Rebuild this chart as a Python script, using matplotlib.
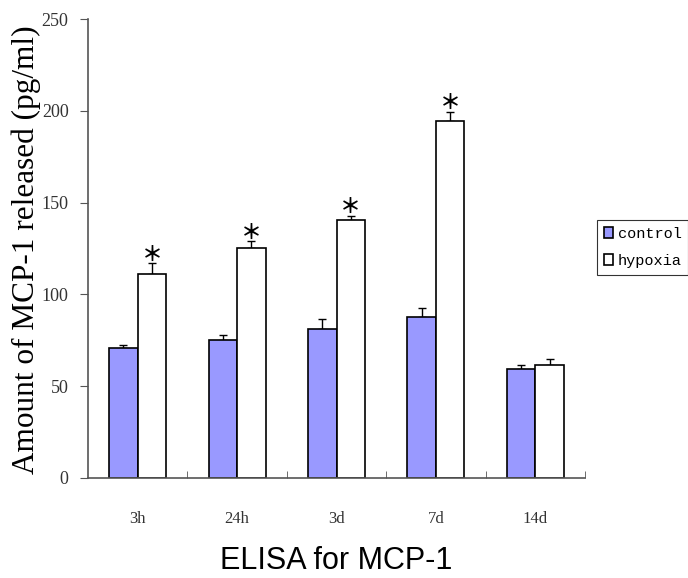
import matplotlib
matplotlib.use("Agg")
import matplotlib.pyplot as plt
import numpy as np

categories = ["3h", "24h", "3d", "7d", "14d"]
control = [70.8, 75.0, 81.0, 87.9, 59.2]
control_err = [1.5, 3.0, 5.4, 4.5, 2.3]
hypoxia = [111.0, 125.3, 140.3, 194.4, 61.4]
hypoxia_err = [6.0, 3.7, 2.6, 5.1, 3.2]
significant = [True, True, True, True, False]
yticks = [0, 50, 100, 150, 200, 250]

fig = plt.figure(figsize=(6.88, 5.78), dpi=100)
ax = fig.add_axes([88/688, 1-478/578, (585-88)/688, (478-19)/578])

x = np.arange(len(categories))
w = 0.287
ax.bar(x - w/2, control, w, color="#9999ff", edgecolor="black", linewidth=1.2,
       label="control", zorder=2)
ax.bar(x + w/2, hypoxia, w, color="white", edgecolor="black", linewidth=1.2,
       label="hypoxia", zorder=2)
ax.errorbar(x - w/2, control, yerr=[np.zeros(5), control_err], fmt="none",
            ecolor="black", elinewidth=1, capsize=3, capthick=1, zorder=1)
ax.errorbar(x + w/2, hypoxia, yerr=[np.zeros(5), hypoxia_err], fmt="none",
            ecolor="black", elinewidth=1, capsize=3, capthick=1, zorder=1)
for xi, h, e, s in zip(x, hypoxia, hypoxia_err, significant):
    if s:
        ax.annotate("＊", xy=(xi + w/2, h + e), xytext=(0, -1),
                    textcoords="offset points", ha="center", va="bottom",
                    fontsize=15, family=["Noto Sans CJK JP", "DejaVu Sans"],
                    color="black", fontweight="bold")

ax.set_xlim(-0.5, len(categories) - 0.5)
ax.set_ylim(0, 250)
ax.set_yticks(yticks)
ax.set_yticklabels([str(t) for t in yticks], family="Liberation Serif", fontsize=13, color="#333333")
ax.set_xticks(x)
ax.set_xticklabels(categories, family="Liberation Serif", fontsize=12, color="#333333")
ax.tick_params(axis="x", length=0, pad=24)
ax.set_xticks(list(np.arange(len(categories)) + 0.5), minor=True)
ax.tick_params(axis="x", which="minor", direction="in", length=5, color="#555555")
ax.tick_params(axis="y", direction="out", length=6, color="#555555", pad=8)
for sp in ["top", "right"]:
    ax.spines[sp].set_visible(False)
for sp in ["left", "bottom"]:
    ax.spines[sp].set_color("#555555")
    ax.spines[sp].set_linewidth(1.2)

ax.set_ylabel("Amount of MCP-1 released (pg/ml)", family="Liberation Serif",
              fontsize=22.5)
ax.yaxis.set_label_coords(41/688, 1-250/578, transform=fig.transFigure)
fig.text(336/688, 1-561/578, "ELISA for MCP-1", family="Liberation Sans",
         fontsize=22, ha="center", va="center")

leg = ax.legend(loc="upper left", bbox_to_anchor=(597/688, 1-220/578),
                bbox_transform=fig.transFigure, frameon=True, fancybox=False,
                edgecolor="black", prop={"family": "Liberation Mono", "size": 11},
                handlelength=0.6, handleheight=0.7, handletextpad=0.3,
                borderpad=0.45, labelspacing=0.85, borderaxespad=0)
leg.get_frame().set_linewidth(0.8)

fig.savefig("out.png", dpi=100)
